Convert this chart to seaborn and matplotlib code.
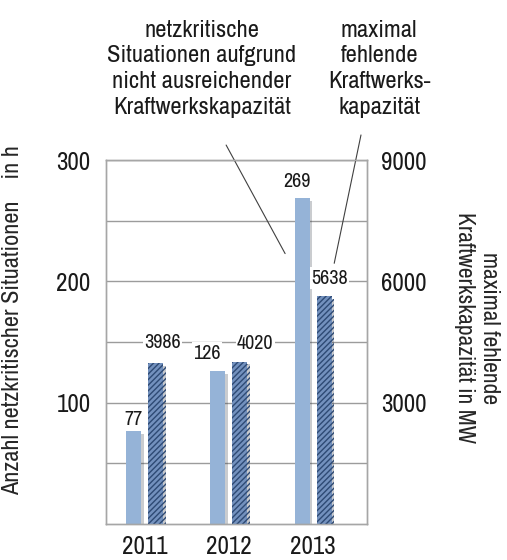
import numpy as np
import pandas as pd
import seaborn as sns
import matplotlib.pyplot as plt
import matplotlib.patheffects as pe

# values
jahre = ["2011", "2012", "2013"]
stunden = [77, 126, 269]          # netzkritische Situationen in h (left axis)
leistung_mw = [3986, 4020, 5638]  # maximal fehlende Kraftwerkskapazität in MW (right axis)
reihe_h = "netzkritische Situationen"
reihe_mw = "fehlende Kraftwerkskapazität"

df = pd.DataFrame({
    "Jahr": jahre * 2,
    "Reihe": [reihe_h] * 3 + [reihe_mw] * 3,
    "Stunden": stunden + [np.nan] * 3,
    "MW": [np.nan] * 3 + leistung_mw,
})

sns.set_theme(style="white")
plt.rcParams["font.family"] = ["Archivo Narrow", "DejaVu Sans"]
plt.rcParams["text.color"] = "#1A1A1A"
plt.rcParams["hatch.linewidth"] = 1.0

hell = "#95B3D7"
dunkel = "#7391BE"
grau = "#A6A6A6"

fig = plt.figure(figsize=(5.07, 5.60), dpi=100)
ax = fig.add_axes([0.209, 0.064, 0.515, 0.650])
ax2 = ax.twinx()

schatten = [pe.SimplePatchShadow(offset=(2, -2), alpha=0.25), pe.Normal()]

for a, spalte in ((ax, "Stunden"), (ax2, "MW")):
    sns.barplot(data=df, x="Jahr", y=spalte, hue="Reihe", hue_order=[reihe_h, reihe_mw],
                palette=[hell, dunkel], saturation=1, width=0.524, gap=0.32,
                errorbar=None, legend=False, ax=a, linewidth=0)

for p in ax.patches:
    p.set_path_effects(schatten)
for p in ax2.patches:
    p.set_hatch("//////")
    p.set_edgecolor("#2E4A74")
    p.set_linewidth(0)
    p.set_path_effects(schatten)

ax.set_xlim(-0.46, 2.64)
ax.set_ylim(0, 300)
ax2.set_ylim(0, 9000)
ax.set_yticks([100, 200, 300])
ax.set_yticks([50, 150, 250], minor=True)
ax2.set_yticks([3000, 6000, 9000])
ax.grid(True, axis="y", which="both", color="#9C9C9C", linewidth=1)
ax.set_axisbelow(True)
ax2.grid(False)
ax.tick_params(axis="y", which="both", length=0, labelsize=18, pad=11, labelcolor="#1A1A1A")
ax.tick_params(axis="x", length=0, labelsize=18, pad=8, labelcolor="#1A1A1A")
ax2.tick_params(axis="y", length=0, labelsize=18, pad=10, labelcolor="#1A1A1A")
for a in (ax, ax2):
    for s in a.spines.values():
        s.set_color(grau)
        s.set_linewidth(1)

ax.set_xlabel("")
ax.set_ylabel("Anzahl netzkritischer Situationen    in h", fontsize=17.5)
ax.yaxis.set_label_coords(-0.318, 0.56)
ax2.set_ylabel("maximal fehlende\nKraftwerkskapazität in MW", fontsize=17, rotation=-90,
               va="center", linespacing=1.25)
ax2.yaxis.set_label_coords(1.42, 0.54)

# data labels with white boxes (they cut the gridlines like in the original)
box = dict(facecolor="white", edgecolor="none", pad=1)
versatz_h = [(0, 8), (-8, 13), (-4, 12)]
versatz_mw = [(5, 15), (11, 13), (4, 13)]
for p, v, (dx, dy) in zip(ax.patches, stunden, versatz_h):
    ax.annotate(f"{v}", (p.get_x() + p.get_width() / 2, p.get_height()),
                xytext=(dx, dy), textcoords="offset points", ha="center", va="center",
                fontsize=14.5, bbox=box)
for p, v, (dx, dy) in zip(ax2.patches, leistung_mw, versatz_mw):
    ax2.annotate(f"{v}", (p.get_x() + p.get_width() / 2, p.get_height()),
                 xytext=(dx, dy), textcoords="offset points", ha="center", va="center",
                 fontsize=14.5, bbox=box)

# callouts
fig.text(0.398, 0.877, "netzkritische\nSituationen aufgrund\nnicht ausreichender\nKraftwerkskapazität",
         ha="center", va="center", fontsize=17.8, linespacing=1.28)
fig.text(0.748, 0.877, "maximal\nfehlende\nKraftwerks-\nkapazität",
         ha="center", va="center", fontsize=17.8, linespacing=1.28)
linie = dict(arrowstyle="-", color="#404040", lw=0.8, shrinkA=0, shrinkB=0)
ax.annotate("", xy=(1.667, 223), xycoords="data", xytext=(0.446, 0.741),
            textcoords="figure fraction", arrowprops=linie)
ax.annotate("", xy=(2.25, 215), xycoords="data", xytext=(0.712, 0.759),
            textcoords="figure fraction", arrowprops=linie)

fig.savefig("out.png", dpi=100)
